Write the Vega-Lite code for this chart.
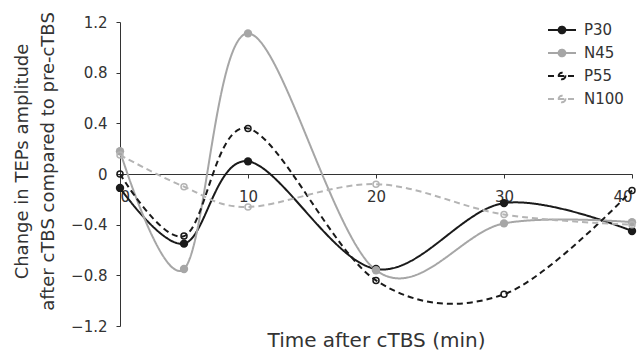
{
  "$schema": "https://vega.github.io/schema/vega-lite/v6.json",
  "width": 512,
  "height": 304,
  "autosize": {"type": "none"},
  "padding": {"left": 120, "top": 22, "right": 7, "bottom": 25},
  "config": {
    "view": {"stroke": null},
    "font": "DejaVu Sans",
    "axis": {
      "grid": false,
      "domainColor": "#333333",
      "tickColor": "#333333",
      "labelColor": "#333333",
      "titleColor": "#333333",
      "labelFont": "DejaVu Sans",
      "titleFont": "DejaVu Sans",
      "titleFontWeight": "normal",
      "labelFontSize": 15,
      "titleFontSize": 18,
      "tickSize": 4
    }
  },
  "data": {
    "values": [
      {"series": "P30", "time": 0, "value": -0.11},
      {"series": "P30", "time": 5, "value": -0.55},
      {"series": "P30", "time": 10, "value": 0.1},
      {"series": "P30", "time": 20, "value": -0.75},
      {"series": "P30", "time": 30, "value": -0.23},
      {"series": "P30", "time": 40, "value": -0.45},
      {"series": "N45", "time": 0, "value": 0.18},
      {"series": "N45", "time": 5, "value": -0.75},
      {"series": "N45", "time": 10, "value": 1.11},
      {"series": "N45", "time": 20, "value": -0.76},
      {"series": "N45", "time": 30, "value": -0.39},
      {"series": "N45", "time": 40, "value": -0.38},
      {"series": "P55", "time": 0, "value": 0.0},
      {"series": "P55", "time": 5, "value": -0.49},
      {"series": "P55", "time": 10, "value": 0.36},
      {"series": "P55", "time": 20, "value": -0.84},
      {"series": "P55", "time": 30, "value": -0.95},
      {"series": "P55", "time": 40, "value": -0.13},
      {"series": "N100", "time": 0, "value": 0.15},
      {"series": "N100", "time": 5, "value": -0.1},
      {"series": "N100", "time": 10, "value": -0.26},
      {"series": "N100", "time": 20, "value": -0.08},
      {"series": "N100", "time": 30, "value": -0.32},
      {"series": "N100", "time": 40, "value": -0.4}
    ]
  },
  "encoding": {
    "x": {
      "field": "time",
      "type": "quantitative",
      "scale": {"domain": [0, 40], "nice": false, "zero": false},
      "axis": {
        "values": [0, 10, 20, 30, 40],
        "offset": -152,
        "labelPadding": 11,
        "title": "Time after cTBS (min)",
        "titleFontSize": 20,
        "titleY": 166,
        "titleBaseline": "middle"
      }
    },
    "y": {
      "field": "value",
      "type": "quantitative",
      "scale": {"domain": [-1.2, 1.2], "nice": false},
      "axis": {
        "values": [-1.2, -0.8, -0.4, 0, 0.4, 0.8, 1.2],
        "format": ".1~f",
        "labelPadding": 9,
        "title": ["Change in TEPs amplitude", "after cTBS compared to pre-cTBS"],
        "titleAngle": -90,
        "titleX": -93,
        "titleY": 139,
        "titleAlign": "center",
        "titleBaseline": "alphabetic",
        "titleLineHeight": 26
      }
    }
  },
  "layer": [
    {
      "mark": {"type": "line", "interpolate": "cardinal", "strokeWidth": 2},
      "encoding": {
        "color": {
          "field": "series",
          "type": "nominal",
          "scale": {"domain": ["P30", "N45", "P55", "N100"], "range": ["#1a1a1a", "#a6a6a6", "#1a1a1a", "#b4b4b4"]},
          "legend": {
            "title": null,
            "orient": "none",
            "legendX": 427,
            "legendY": -7,
            "padding": 0,
            "symbolType": "M-1,0H1M0.24,0A0.24,0.24,0,1,1,-0.24,0A0.24,0.24,0,1,1,0.24,0Z",
            "symbolSize": 784,
            "symbolStrokeWidth": 2,
            "labelFontSize": 15,
            "labelFont": "DejaVu Sans",
            "labelColor": "#333333",
            "rowPadding": 0,
            "labelOffset": 7,
            "encode": {
              "symbols": {
                "update": {
                  "size": {"value": 784},
                  "fill": {"signal": "datum.value === 'P30' ? '#1a1a1a' : datum.value === 'N45' ? '#a6a6a6' : '#ffffff'"},
                  "fillOpacity": {"signal": "datum.value === 'P55' || datum.value === 'N100' ? 0 : 1"},
                  "strokeDash": {"signal": "datum.value === 'P55' || datum.value === 'N100' ? [4, 3] : [1, 0]"}
                }
              }
            }
          }
        },
        "strokeDash": {
          "field": "series",
          "type": "nominal",
          "scale": {"domain": ["P30", "N45", "P55", "N100"], "range": [[1, 0], [1, 0], [6, 4], [6, 4]]},
          "legend": null
        }
      }
    },
    {
      "transform": [{"filter": {"field": "series", "oneOf": ["P30", "N45"]}}],
      "mark": {"type": "point", "filled": true, "size": 70, "opacity": 1},
      "encoding": {
        "color": {"field": "series", "type": "nominal", "legend": null}
      }
    },
    {
      "transform": [{"filter": {"field": "series", "oneOf": ["P55", "N100"]}}],
      "mark": {"type": "point", "filled": false, "size": 36, "strokeWidth": 1.5, "opacity": 1},
      "encoding": {
        "color": {"field": "series", "type": "nominal", "legend": null}
      }
    }
  ]
}
